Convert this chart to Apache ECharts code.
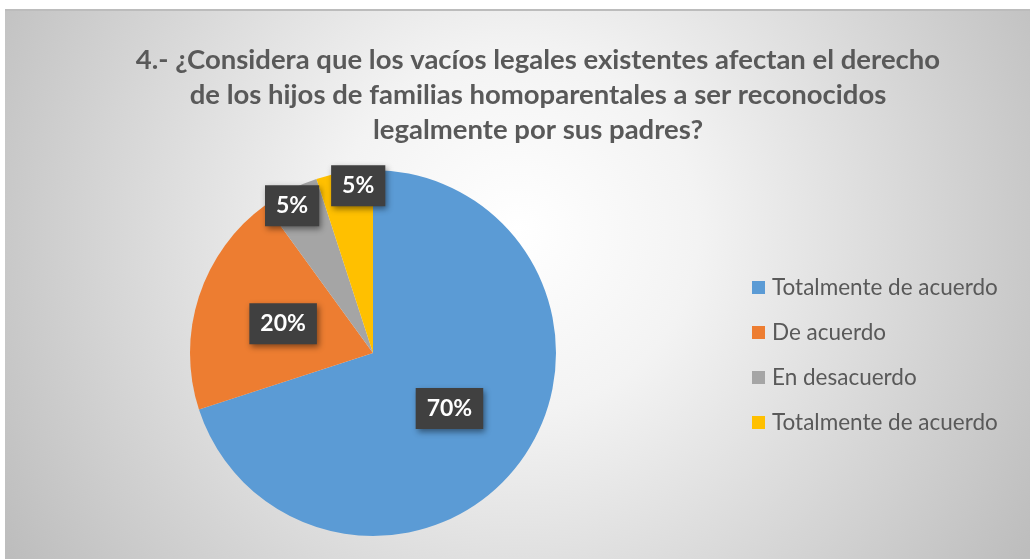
<!DOCTYPE html>
<html>
<head>
<meta charset="utf-8">
<script src="https://cdn.jsdelivr.net/npm/echarts@6/dist/echarts.min.js"></script>
<style>
  html, body { margin: 0; padding: 0; background: #fff; }
  #wrap {
    position: absolute;
    left: 5px;
    top: 9px;
    width: 1025px;
    height: 548px;
    border-top: 2px solid #bcbcbc;
  }
  #main { width: 1025px; height: 548px; }
</style>
</head>
<body>
<div id="wrap"><div id="main"></div></div>
<script>
// datos
const titleLines = [
  '4.- ¿Considera que los vacíos legales existentes afectan el derecho',
  'de los hijos de familias homoparentales a ser reconocidos',
  'legalmente por sus padres?'
]
const categories = ['Totalmente de acuerdo', 'De acuerdo', 'En desacuerdo', 'Totalmente de acuerdo']
const values = [70, 20, 5, 5]
const colors = ['#5B9BD5', '#ED7D31', '#A5A5A5', '#FFC000']

// desplazamiento de las etiquetas de las porciones pequeñas (hacia el borde)
const labelOffsets = [null, null, [-38, -63], [0, -74]]

const chart = echarts.init(document.getElementById('main'))

const pieData = values.map((v, i) => {
  const item = {
    // nombres únicos para la leyenda (hay dos categorías iguales)
    name: categories[i] + ' '.repeat(i),
    value: v,
    itemStyle: { color: colors[i] }
  }
  if (labelOffsets[i]) item.label = { offset: labelOffsets[i] }
  return item
})

chart.setOption({
  backgroundColor: {
    type: 'radial',
    x: 0.5, y: 0.4, r: 1.1,
    colorStops: [
      { offset: 0, color: '#ffffff' },
      { offset: 0.3, color: '#f3f3f3' },
      { offset: 1, color: '#bdbdbd' }
    ]
  },
  title: {
    text: titleLines.join('\n'),
    left: 528,
    top: 27,
    textAlign: 'center',
    textStyle: {
      fontFamily: 'Lato',
      fontWeight: 'bold',
      fontSize: 27.5,
      lineHeight: 35,
      color: '#595959'
    }
  },
  legend: {
    orient: 'vertical',
    left: 747,
    top: 265,
    padding: 0,
    itemWidth: 13,
    itemHeight: 13,
    itemGap: 22,
    icon: 'rect',
    selectedMode: false,
    formatter: name => name.trim(),
    textStyle: {
      fontFamily: 'Lato',
      fontSize: 22.5,
      lineHeight: 22,
      color: '#595959',
      padding: [0, 0, 0, 2]
    }
  },
  series: [
    {
      type: 'pie',
      center: [368, 342],
      radius: [0, 183],
      startAngle: 90,
      clockwise: true,
      silent: true,
      animation: false,
      avoidLabelOverlap: false,
      labelLayout: { hideOverlap: false },
      label: {
        show: true,
        position: 'inside',
        formatter: '{d}%',
        fontFamily: 'Lato',
        fontWeight: 'bold',
        fontSize: 23,
        color: '#ffffff',
        backgroundColor: '#404040',
        padding: [9, 11],
        shadowColor: 'rgba(0,0,0,0.45)',
        shadowBlur: 6,
        shadowOffsetX: 2,
        shadowOffsetY: 3
      },
      labelLine: { show: false },
      data: pieData
    }
  ]
})
</script>
</body>
</html>
